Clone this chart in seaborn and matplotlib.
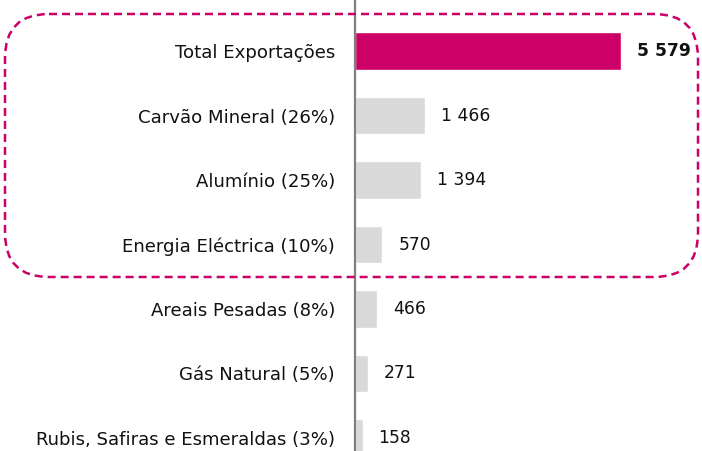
import matplotlib
matplotlib.use("Agg")
import matplotlib.pyplot as plt
import seaborn as sns
import pandas as pd
from matplotlib.patches import FancyBboxPatch

categories = ["Total Exportações", "Carvão Mineral (26%)", "Alumínio (25%)",
              "Energia Eléctrica (10%)", "Areais Pesadas (8%)", "Gás Natural (5%)",
              "Rubis, Safiras e Esmeraldas (3%)"]
values = [5579, 1466, 1394, 570, 466, 271, 158]
value_labels = ["5 579", "1 466", "1 394", "570", "466", "271", "158"]

MAGENTA = "#CC0066"
GRAY = "#D9D9D9"

sns.set_theme(style="white")
plt.rcParams['font.family'] = ['DejaVu Sans']

df = pd.DataFrame({"cat": categories, "val": values})
fig = plt.figure(figsize=(7.02, 4.51), dpi=100)
ax = fig.add_axes([355 / 702, 0, 1 - 355 / 702, 1])

palette = [MAGENTA] + [GRAY] * (len(categories) - 1)
sns.barplot(data=df, x="val", y="cat", hue="cat", palette=palette, legend=False,
            orient="h", width=0.58, ax=ax, saturation=1)

scale = 266 / 5579  # px per unit
ax.set_xlim(0, 347 / scale)
ax.set_ylim(6 + (451 - 438) / 64.3, -51 / 64.3)

for i, (v, lab) in enumerate(zip(values, value_labels)):
    ax.text(v + 16 / scale, i, lab, va="center", ha="left", fontsize=12.3,
            color="#111111", fontweight="bold" if i == 0 else "normal")

ax.set_xlabel("")
ax.set_ylabel("")
ax.set_xticks([])
for s in ["top", "right", "bottom"]:
    ax.spines[s].set_visible(False)
ax.spines["left"].set_color("#7F7F7F")
ax.spines["left"].set_linewidth(1.6)
ax.tick_params(axis="y", length=0, pad=14.4, labelsize=13.1, labelcolor="#111111")

# dashed rounded box overlay in pixel coordinates
ov = fig.add_axes([0, 0, 1, 1], facecolor="none")
ov.set_xlim(0, 702)
ov.set_ylim(451, 0)
ov.axis("off")
box = FancyBboxPatch((5, 14), 693, 263, boxstyle="round,pad=0,rounding_size=44",
                     fill=False, edgecolor=MAGENTA, linewidth=1.8,
                     linestyle=(0, (3.2, 2.0)))
ov.add_patch(box)

fig.savefig("out.png", dpi=100)
